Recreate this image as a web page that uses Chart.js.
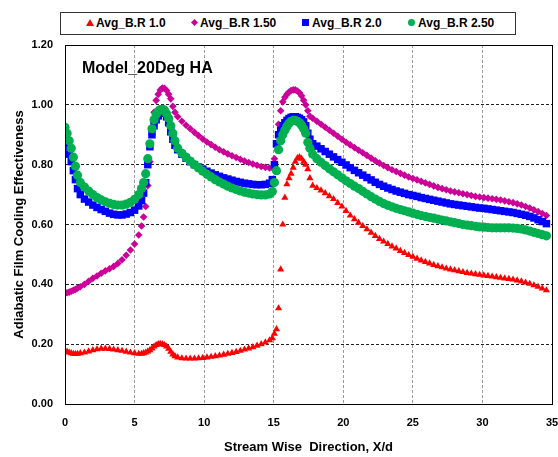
<!DOCTYPE html>
<html>
<head>
<meta charset="utf-8">
<script src="https://cdn.jsdelivr.net/npm/chart.js@4.4.0/dist/chart.umd.min.js"></script>
<style>
  body { margin: 0; background: #fff; font-family: "Liberation Sans", Arial, sans-serif; }
  #wrap { position: relative; width: 558px; height: 457px; }
  #legend { position: absolute; left: 60px; top: 12px; width: 454px; height: 21px; border: 1px solid #333; background: #fff; }
  #legend .txt { position: absolute; top: 3px; font-size: 12px; font-weight: bold; color: #000; line-height: 15px; white-space: nowrap; }
  #legend .mk { position: absolute; }
  #title { position: absolute; left: 82px; top: 60px; font-size: 16px; font-weight: bold; line-height: 16px; color: #000; white-space: nowrap; }
</style>
</head>
<body>
<div id="wrap">
  <canvas id="chart" width="558" height="457"></canvas>
  <div id="legend">
    <span class="mk" style="left:25px;top:6px;width:0;height:0;border-left:4px solid transparent;border-right:4px solid transparent;border-bottom:7px solid #ff0000;"></span>
    <span class="txt" style="left:35px">Avg_B.R 1.0</span>
    <span class="mk" style="left:131px;top:7px;width:5px;height:5px;background:#cc0099;transform:rotate(45deg);"></span>
    <span class="txt" style="left:139px">Avg_B.R 1.50</span>
    <span class="mk" style="left:241px;top:6px;width:7px;height:7px;background:#0000ff;"></span>
    <span class="txt" style="left:251px">Avg_B.R 2.0</span>
    <span class="mk" style="left:347px;top:6px;width:7px;height:7px;border-radius:50%;background:#00b050;"></span>
    <span class="txt" style="left:357px">Avg_B.R 2.50</span>
  </div>
  <div id="title">Model_20Deg HA</div>
</div>
<script>
// stream wise positions X/d (shared by all four series)
const xd = [
  0, 0.15, 0.3, 0.45, 0.6, 0.75, 0.9, 1.1, 1.4, 1.7,
  2.0, 2.3, 2.6, 2.9, 3.2, 3.5, 3.8, 4.1, 4.4, 4.7,
  5.0, 5.3, 5.5, 5.65, 5.8, 5.95, 6.1, 6.25, 6.4, 6.55,
  6.7, 6.85, 7.0, 7.15, 7.3, 7.45, 7.6, 7.75, 7.9, 8.1,
  8.4, 8.7, 9.0, 9.3, 9.6, 9.9, 10.2, 10.5, 10.8, 11.1,
  11.4, 11.7, 12.0, 12.3, 12.6, 12.9, 13.2, 13.5, 13.8, 14.1,
  14.4, 14.7, 14.9, 15.05, 15.2, 15.35, 15.5, 15.65, 15.8, 15.95,
  16.1, 16.25, 16.4, 16.55, 16.7, 16.85, 17.0, 17.15, 17.3, 17.45,
  17.6, 17.8, 18.1, 18.4, 18.7, 19.0, 19.3, 19.6, 19.9, 20.2,
  20.5, 20.8, 21.1, 21.4, 21.7, 22.0, 22.3, 22.6, 22.9, 23.2,
  23.5, 23.8, 24.1, 24.4, 24.7, 25.0, 25.3, 25.6, 25.9, 26.2,
  26.5, 26.8, 27.1, 27.4, 27.7, 28.0, 28.3, 28.6, 28.9, 29.2,
  29.5, 29.8, 30.1, 30.4, 30.7, 31.0, 31.3, 31.6, 31.9, 32.2,
  32.5, 32.8, 33.1, 33.4, 33.7, 34.0, 34.3, 34.6
];

const br10 = [
  0.175, 0.175, 0.172, 0.170, 0.168, 0.167, 0.168, 0.170, 0.172, 0.176,
  0.180, 0.183, 0.185, 0.185, 0.184, 0.182, 0.180, 0.178, 0.175, 0.172,
  0.170, 0.168, 0.168, 0.170, 0.172, 0.176, 0.180, 0.186, 0.192, 0.197,
  0.200, 0.201, 0.200, 0.197, 0.192, 0.185, 0.175, 0.166, 0.160, 0.156,
  0.153, 0.152, 0.152, 0.152, 0.153, 0.154, 0.156, 0.158, 0.160, 0.162,
  0.165, 0.168, 0.171, 0.174, 0.178, 0.182, 0.186, 0.190, 0.195, 0.200,
  0.206, 0.213, 0.220, 0.235, 0.250, 0.320, 0.450, 0.600, 0.690, 0.735,
  0.755, 0.770, 0.790, 0.810, 0.822, 0.825, 0.820, 0.810, 0.800, 0.785,
  0.755, 0.730, 0.722, 0.714, 0.705, 0.695, 0.685, 0.672, 0.660, 0.645,
  0.630, 0.618, 0.606, 0.595, 0.584, 0.573, 0.562, 0.552, 0.543, 0.535,
  0.527, 0.520, 0.512, 0.505, 0.498, 0.492, 0.486, 0.480, 0.475, 0.470,
  0.465, 0.461, 0.457, 0.453, 0.450, 0.447, 0.444, 0.441, 0.438, 0.436,
  0.434, 0.432, 0.430, 0.428, 0.426, 0.424, 0.422, 0.420, 0.418, 0.416,
  0.413, 0.410, 0.406, 0.402, 0.397, 0.392, 0.386, 0.380
];

const br15 = [
  0.370, 0.372, 0.374, 0.377, 0.380, 0.383, 0.387, 0.392, 0.400, 0.410,
  0.420, 0.428, 0.437, 0.445, 0.452, 0.460, 0.470, 0.482, 0.497, 0.515,
  0.535, 0.565, 0.595, 0.625, 0.660, 0.730, 0.810, 0.900, 0.975, 1.015,
  1.035, 1.050, 1.056, 1.055, 1.048, 1.035, 1.020, 0.995, 0.975, 0.960,
  0.945, 0.932, 0.920, 0.908, 0.897, 0.886, 0.876, 0.867, 0.858, 0.850,
  0.843, 0.836, 0.830, 0.824, 0.818, 0.812, 0.807, 0.802, 0.798, 0.794,
  0.791, 0.789, 0.790, 0.820, 0.865, 0.935, 0.980, 1.010, 1.025, 1.035,
  1.043, 1.048, 1.050, 1.050, 1.046, 1.040, 1.030, 1.015, 1.000, 0.980,
  0.962, 0.955, 0.945, 0.935, 0.925, 0.915, 0.905, 0.895, 0.885, 0.875,
  0.866, 0.857, 0.848, 0.840, 0.831, 0.822, 0.813, 0.805, 0.797, 0.790,
  0.783, 0.777, 0.771, 0.765, 0.759, 0.754, 0.749, 0.744, 0.739, 0.734,
  0.729, 0.724, 0.720, 0.716, 0.712, 0.709, 0.706, 0.703, 0.700, 0.697,
  0.694, 0.692, 0.690, 0.688, 0.686, 0.684, 0.682, 0.679, 0.676, 0.673,
  0.669, 0.665, 0.660, 0.655, 0.649, 0.643, 0.637, 0.630
];

const br20 = [
  0.890, 0.860, 0.835, 0.810, 0.780, 0.750, 0.720, 0.700, 0.685, 0.675,
  0.665, 0.657, 0.650, 0.644, 0.638, 0.634, 0.632, 0.632, 0.635, 0.640,
  0.648, 0.662, 0.680, 0.705, 0.740, 0.800, 0.860, 0.900, 0.930, 0.950,
  0.963, 0.972, 0.975, 0.972, 0.960, 0.940, 0.910, 0.885, 0.865, 0.850,
  0.835, 0.822, 0.810, 0.800, 0.792, 0.785, 0.778, 0.772, 0.766, 0.761,
  0.756, 0.752, 0.748, 0.744, 0.741, 0.738, 0.736, 0.734, 0.733, 0.733,
  0.734, 0.738, 0.750, 0.800, 0.870, 0.900, 0.915, 0.930, 0.940, 0.948,
  0.954, 0.958, 0.960, 0.960, 0.958, 0.955, 0.950, 0.943, 0.930, 0.905,
  0.885, 0.870, 0.862, 0.853, 0.844, 0.835, 0.826, 0.817, 0.808, 0.799,
  0.790, 0.781, 0.773, 0.765, 0.757, 0.749, 0.741, 0.734, 0.728, 0.722,
  0.717, 0.712, 0.708, 0.704, 0.700, 0.697, 0.694, 0.690, 0.687, 0.684,
  0.681, 0.678, 0.675, 0.672, 0.669, 0.667, 0.665, 0.663, 0.661, 0.659,
  0.657, 0.655, 0.654, 0.652, 0.650, 0.648, 0.646, 0.644, 0.642, 0.640,
  0.637, 0.634, 0.631, 0.627, 0.622, 0.616, 0.610, 0.603
];

const br25 = [
  0.925, 0.905, 0.880, 0.855, 0.825, 0.795, 0.765, 0.740, 0.725, 0.712,
  0.700, 0.690, 0.682, 0.676, 0.671, 0.667, 0.665, 0.665, 0.668, 0.674,
  0.684, 0.700, 0.720, 0.740, 0.770, 0.820, 0.870, 0.920, 0.950, 0.968,
  0.978, 0.984, 0.985, 0.982, 0.970, 0.955, 0.930, 0.905, 0.880, 0.855,
  0.838, 0.825, 0.812, 0.800, 0.789, 0.778, 0.768, 0.759, 0.750, 0.742,
  0.735, 0.728, 0.722, 0.717, 0.712, 0.708, 0.705, 0.702, 0.700, 0.699,
  0.699, 0.702, 0.710, 0.740, 0.780, 0.850, 0.880, 0.900, 0.915, 0.928,
  0.938, 0.945, 0.948, 0.948, 0.945, 0.940, 0.932, 0.920, 0.905, 0.875,
  0.855, 0.835, 0.820, 0.808, 0.797, 0.786, 0.776, 0.766, 0.756, 0.746,
  0.737, 0.728, 0.720, 0.711, 0.702, 0.693, 0.685, 0.677, 0.670, 0.664,
  0.659, 0.654, 0.650, 0.646, 0.642, 0.638, 0.634, 0.630, 0.627, 0.624,
  0.621, 0.618, 0.615, 0.612, 0.609, 0.606, 0.603, 0.600, 0.598, 0.596,
  0.594, 0.592, 0.591, 0.590, 0.589, 0.589, 0.589, 0.589, 0.589, 0.588,
  0.587, 0.585, 0.582, 0.578, 0.574, 0.570, 0.566, 0.562
];

const xTicks = [0, 5, 10, 15, 20, 25, 30, 35];
const yTicks = [0, 0.2, 0.4, 0.6, 0.8, 1.0, 1.2];

function pts(ys) {
  return xd.map(function (x, i) { return { x: x, y: ys[i] }; });
}

// frame round the plot area
const frame = {
  id: 'frame',
  afterDraw(chart) {
    const a = chart.chartArea, ctx = chart.ctx;
    ctx.save();
    ctx.strokeStyle = '#000';
    ctx.lineWidth = 1;
    ctx.strokeRect(Math.round(a.left) + 0.5, Math.round(a.top) + 0.5, Math.round(a.right - a.left), Math.round(a.bottom - a.top));
    ctx.restore();
  }
};

const font = { family: '"Liberation Sans", Arial, sans-serif', weight: 'bold' };

new Chart(document.getElementById('chart').getContext('2d'), {
  type: 'scatter',
  data: {
    datasets: [
      { label: 'Avg_B.R 1.0', data: pts(br10), pointStyle: 'triangle', pointRadius: 4.1,
        backgroundColor: '#ff0000', borderColor: '#ff0000', pointBorderWidth: 0, order: 4 },
      { label: 'Avg_B.R 1.50', data: pts(br15), pointStyle: 'rectRot', pointRadius: 3.8,
        backgroundColor: '#cc0099', borderColor: '#cc0099', pointBorderWidth: 0, order: 3 },
      { label: 'Avg_B.R 2.0', data: pts(br20), pointStyle: 'rect', pointRadius: 5.3,
        backgroundColor: '#0000ff', borderColor: '#0000ff', pointBorderWidth: 0, order: 2 },
      { label: 'Avg_B.R 2.50', data: pts(br25), pointStyle: 'circle', pointRadius: 4.6,
        backgroundColor: '#00b050', borderColor: '#00b050', pointBorderWidth: 0, order: 1 }
    ]
  },
  options: {
    responsive: false,
    animation: false,
    devicePixelRatio: 1,
    layout: { padding: { top: 45, right: 6, bottom: 0, left: 0 } },
    plugins: { legend: { display: false }, tooltip: { enabled: false } },
    scales: {
      x: {
        type: 'linear', min: 0, max: 35,
        afterBuildTicks(s) { s.ticks = xTicks.map(function (v) { return { value: v }; }); },
        afterFit(s) { s.height = 53; s.paddingLeft = 0; s.paddingRight = 0; },
        grid: { color: '#9a9a9a', drawTicks: false, lineWidth: 1 },
        border: { color: '#000', dash: [3, 2] },
        ticks: { color: '#000', font: Object.assign({ size: 11 }, font), padding: 12, maxRotation: 0,
                 callback: function (v) { return String(v); } },
        title: { display: true, text: 'Stream Wise  Direction, X/d', color: '#000',
                 font: Object.assign({ size: 13 }, font), padding: { top: 0, bottom: 2 } }
      },
      y: {
        type: 'linear', min: 0, max: 1.2,
        afterBuildTicks(s) { s.ticks = yTicks.map(function (v) { return { value: v }; }); },
        afterFit(s) { s.width = 65; s.paddingTop = 0; s.paddingBottom = 0; },
        grid: { color: '#222', drawTicks: false, lineWidth: 1 },
        border: { color: '#000', dash: [3, 2] },
        ticks: { color: '#000', font: Object.assign({ size: 11 }, font), padding: 12,
                 callback: function (v) { return Number(v).toFixed(2); } },
        title: { display: true, text: 'Adiabatic Film Cooling Effectiveness', color: '#000',
                 font: Object.assign({ size: 13 }, font), padding: { top: 12, bottom: 0 } }
      }
    }
  },
  plugins: [frame]
});
</script>
</body>
</html>
